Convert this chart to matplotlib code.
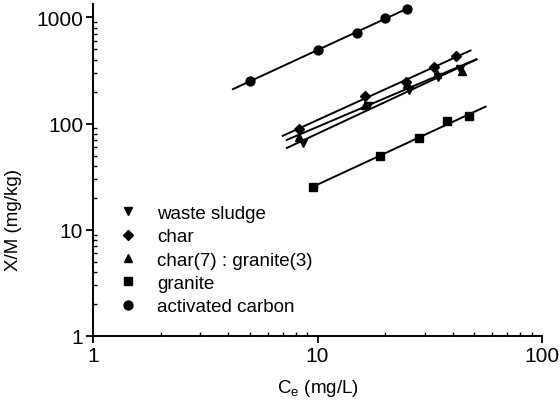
import matplotlib.pyplot as plt
import numpy as np
from matplotlib.lines import Line2D

plt.rcParams['font.family'] = ['Liberation Sans', 'DejaVu Sans']

# Equilibrium data: Ce (mg/L) vs X/M (mg/kg)
ws_ce = [8.6, 16.8, 25.6, 34.5, 43.0]
ws_xm = [66, 145, 205, 275, 325]

char_ce = [8.3, 16.3, 24.9, 33.0, 41.3]
char_xm = [89, 183, 245, 339, 430]

cg_ce = [8.3, 16.3, 25.0, 34.0, 44.0]
cg_xm = [74, 150, 235, 290, 315]

gr_ce = [9.5, 19.0, 28.4, 37.9, 47.3]
gr_xm = [25.5, 49, 73, 106, 117]

ac_ce = [5.0, 10.0, 15.0, 20.0, 25.0]
ac_xm = [250, 495, 720, 985, 1200]

# x-range over which each Freundlich fit line is drawn
ws_fit = (7.3, 51)
char_fit = (7.0, 48)
cg_fit = (7.3, 51)
gr_fit = (9.3, 56)
ac_fit = (4.2, 26)

series = [
    ('waste sludge', ws_ce, ws_xm, ws_fit, 'v'),
    ('char', char_ce, char_xm, char_fit, 'D'),
    ('char(7) : granite(3)', cg_ce, cg_xm, cg_fit, '^'),
    ('granite', gr_ce, gr_xm, gr_fit, 's'),
    ('activated carbon', ac_ce, ac_xm, ac_fit, 'o'),
]

fig = plt.figure(figsize=(5.6, 4.14), dpi=100)
ax = fig.add_axes([0.166, 0.186, 0.802, 0.802])

handles = []
for name, ce, xm, fit, mk in series:
    ms = 5.6 if mk == 'D' else 6.4
    # log-log linear fit (Freundlich isotherm)
    k, b = np.polyfit(np.log10(ce), np.log10(xm), 1)
    xf = np.logspace(np.log10(fit[0]), np.log10(fit[1]), 50)
    ax.plot(xf, 10 ** (k * np.log10(xf) + b), color='black', lw=1.4)
    ax.plot(ce, xm, linestyle='none', marker=mk, ms=ms, color='black')
    handles.append(Line2D([], [], linestyle='none', marker=mk, ms=ms,
                          color='black', label=name))

ax.set_xscale('log')
ax.set_yscale('log')
ax.set_xlim(1, 100)
ax.set_ylim(1, 1337)

ax.spines['top'].set_visible(False)
ax.spines['right'].set_visible(False)
for s in ('left', 'bottom'):
    ax.spines[s].set_linewidth(1.4)

ax.set_xticks([1, 10, 100])
ax.set_xticklabels(['1', '10', '100'])
ax.set_yticks([1, 10, 100, 1000])
ax.set_yticklabels(['1', '10', '100', '1000'])
ax.tick_params(which='major', direction='out', length=5, width=1.3,
               labelsize=15, pad=2)
ax.tick_params(which='minor', direction='in', length=3, width=1.0)
ax.tick_params(axis='x', which='minor', labelbottom=False)
ax.tick_params(axis='y', which='minor', labelleft=False)

ax.set_xlabel(r'C$_\mathregular{e}$ (mg/L)', fontsize=13.5, labelpad=9)
ax.set_ylabel('X/M (mg/kg)', fontsize=13.5)
ax.yaxis.set_label_coords(-0.158, 0.352)

ax.legend(handles=handles, loc='upper left', bbox_to_anchor=(0.058, 0.395),
          frameon=False, fontsize=13.5, handlelength=1.0, handletextpad=1.05,
          labelspacing=0.33, borderpad=0, borderaxespad=0)

fig.savefig('out.png', dpi=100)
